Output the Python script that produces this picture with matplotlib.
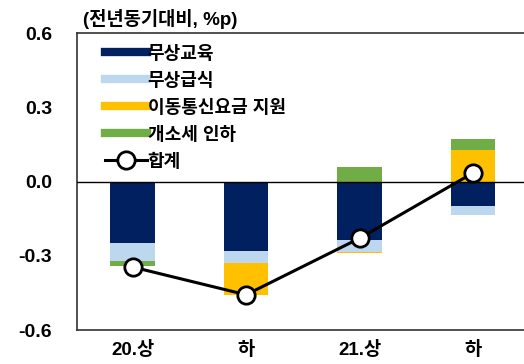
import matplotlib
matplotlib.use("Agg")
import matplotlib.pyplot as plt
import numpy as np

plt.rcParams['font.family'] = ['Liberation Sans', 'Noto Sans CJK KR', 'DejaVu Sans']

categories = ["20.상", "하", "21.상", "하"]
free_edu = [-0.246, -0.279, -0.236, -0.097]
free_meal = [-0.073, -0.051, -0.047, -0.039]
telecom = [0.0, -0.127, -0.007, 0.126]
excise = [-0.022, 0.0, 0.061, 0.045]
total = [-0.345, -0.457, -0.229, 0.035]

series = [
    ("무상교육", free_edu, "#002060"),
    ("무상급식", free_meal, "#BDD7EE"),
    ("이동통신요금 지원", telecom, "#FFC000"),
    ("개소세 인하", excise, "#70AD47"),
]

fig = plt.figure(figsize=(5.24, 3.64), dpi=100)
ax = fig.add_axes([0.147, 0.093, 0.853, 0.816])

x = np.arange(len(categories))
width = 0.39
pos_base = np.zeros(len(x))
neg_base = np.zeros(len(x))
handles = []
for name, vals, color in series:
    vals = np.array(vals)
    bottoms = np.where(vals >= 0, pos_base, neg_base)
    ax.bar(x, vals, width, bottom=bottoms, color=color, zorder=2)
    pos_base += np.where(vals >= 0, vals, 0)
    neg_base += np.where(vals < 0, vals, 0)
    handles.append(plt.Line2D([], [], color=color, lw=6, label=name))

ax.axhline(0, color="black", lw=1.0, zorder=3)
line, = ax.plot(x, total, color="black", lw=2.2, marker="o", markersize=12.5,
                markerfacecolor="white", markeredgecolor="black",
                markeredgewidth=2, zorder=4, label="합계")
handles.append(line)

ax.set_xlim(-0.49, 3.45)
ax.set_ylim(-0.6, 0.6)
ax.set_yticks([-0.6, -0.3, 0.0, 0.3, 0.6])
ax.set_yticklabels(["-0.6", "-0.3", "0.0", "0.3", "0.6"], fontsize=14, fontweight="bold")
ax.set_xticks(x)
ax.set_xticklabels(categories, fontsize=13.5, fontweight="bold")
ax.tick_params(length=0)
ax.tick_params(axis="x", pad=8)
ax.tick_params(axis="y", pad=18)
for s in ["left", "bottom", "top"]:
    ax.spines[s].set_linewidth(1.2)
    ax.spines[s].set_color("#333333")
ax.spines["right"].set_visible(False)

leg = ax.legend(handles=handles, loc="upper left", bbox_to_anchor=(0.035, 1.0),
                frameon=False, handlelength=2.3, handletextpad=0.05,
                labelspacing=0.55, borderaxespad=0.3,
                prop={"weight": "bold", "size": 13})

fig.text(0.158, 0.948, "(전년동기대비, %p)", fontsize=13.5, fontweight="bold",
         ha="left", va="center")

fig.savefig("out.png", dpi=100)
